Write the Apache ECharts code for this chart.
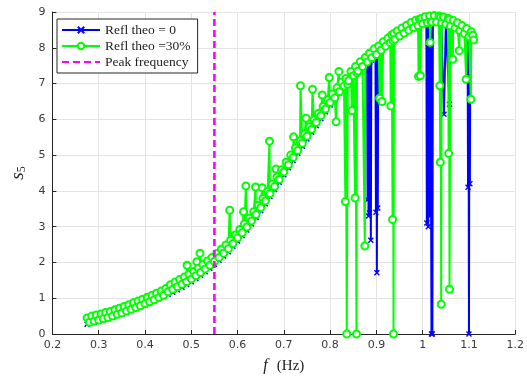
<!DOCTYPE html>
<html><head><meta charset="utf-8">
<script src="https://cdn.jsdelivr.net/npm/echarts@6/dist/echarts.min.js"></script>
<style>html,body{margin:0;padding:0;background:#fff}#c{width:527px;height:380px}</style>
</head><body><div id="c"></div>
<script>
// ---- data ----
const xTicks = [0.2,0.3,0.4,0.5,0.6,0.7,0.8,0.9,1.0,1.1,1.2];
const yTicks = [0,1,2,3,4,5,6,7,8,9];
const legendNames = ['Refl theo = 0','Refl theo =30%','Peak frequency'];
const peakFreq = 0.55;

// Refl theo = 0  : [frequency (Hz), s5]
const blueData = [
 [0.275,0.27],[0.28,0.30],[0.29,0.33],[0.30,0.36],[0.31,0.40],[0.32,0.43],[0.33,0.47],[0.34,0.52],
 [0.35,0.56],[0.36,0.61],[0.37,0.66],[0.38,0.71],[0.39,0.76],[0.40,0.82],[0.41,0.87],[0.42,0.93],
 [0.43,0.99],[0.44,1.05],[0.45,1.11],[0.46,1.17],[0.47,1.24],[0.48,1.31],[0.49,1.38],[0.50,1.46],
 [0.51,1.55],[0.52,1.64],[0.53,1.74],[0.54,1.84],[0.55,1.95],[0.56,2.06],[0.57,2.18],[0.58,2.30],
 [0.59,2.45],[0.60,2.60],[0.61,2.75],[0.62,2.91],[0.63,3.08],[0.64,3.26],[0.65,3.45],[0.66,3.64],
 [0.67,3.84],[0.68,4.04],[0.69,4.24],[0.70,4.45],[0.71,4.65],[0.72,4.85],[0.73,5.05],[0.74,5.25],
 [0.75,5.45],[0.76,5.64],[0.77,5.83],[0.78,6.02],[0.79,6.21],[0.80,6.40],[0.81,6.57],[0.82,6.74],
 [0.83,6.90],[0.84,7.05],[0.85,7.19],[0.86,7.32],[0.87,7.45],[0.88,7.55],
 [0.881,3.75],[0.882,7.56],[0.883,3.30],[0.884,7.57],[0.885,3.38],[0.886,7.60],[0.888,2.62],[0.889,7.66],
 [0.89,7.69],[0.898,7.78],[0.899,3.40],[0.900,7.80],[0.901,1.71],[0.902,7.82],[0.903,3.52],[0.904,7.84],
 [0.91,7.93],[0.92,8.04],[0.93,8.14],[0.94,8.24],[0.95,8.33],[0.96,8.41],[0.97,8.49],[0.98,8.56],
 [0.99,8.62],[1.00,8.67],[1.008,8.69],[1.009,3.10],[1.010,8.70],[1.012,3.00],[1.013,8.71],
 [1.016,3.30],[1.017,8.72],[1.019,0.0],[1.020,8.72],[1.021,0.0],[1.022,8.72],[1.03,8.72],[1.04,8.70],
 [1.046,6.14],[1.05,8.66],[1.058,6.42],[1.06,8.61],[1.07,8.55],[1.08,8.48],[1.09,8.40],
 [1.097,8.34],[1.098,4.10],[1.099,8.33],[1.100,0.0],[1.101,8.31],[1.102,4.20],[1.103,8.30],[1.11,8.22]
];

// Refl theo = 30% : [frequency (Hz), s5]
const greenData = [
 [0.275,0.45],[0.280,0.33],[0.285,0.50],[0.290,0.36],[0.295,0.53],[0.300,0.39],[0.305,0.56],[0.310,0.43],
 [0.315,0.60],[0.320,0.46],[0.325,0.63],[0.330,0.50],[0.335,0.68],[0.340,0.55],[0.345,0.72],[0.350,0.59],
 [0.355,0.77],[0.360,0.64],[0.365,0.82],[0.370,0.69],[0.375,0.87],[0.380,0.74],[0.385,0.92],[0.390,0.79],
 [0.395,0.97],[0.400,0.85],[0.405,1.03],[0.410,0.90],[0.415,1.08],[0.420,0.96],[0.425,1.14],[0.430,1.02],
 [0.435,1.20],[0.440,1.08],[0.445,1.27],[0.450,1.18],[0.455,1.38],[0.460,1.25],[0.465,1.45],[0.470,1.32],
 [0.475,1.52],[0.480,1.39],[0.485,1.59],[0.490,1.46],[0.491,1.92],[0.495,1.67],[0.500,1.54],[0.505,1.75],
 [0.510,1.63],[0.512,2.02],[0.515,1.84],[0.519,2.26],[0.520,1.72],[0.525,1.94],[0.530,1.82],[0.535,2.04],
 [0.540,1.92],[0.545,2.14],[0.550,2.03],[0.555,2.25],[0.560,2.14],[0.565,2.37],[0.570,2.26],[0.575,2.49],
 [0.580,2.38],[0.583,3.46],[0.585,2.62],[0.590,2.53],[0.595,2.77],[0.600,2.68],[0.605,2.92],[0.610,2.83],
 [0.613,3.42],[0.615,3.08],[0.618,4.14],[0.620,2.99],[0.625,3.24],[0.630,3.16],[0.635,3.42],[0.639,4.11],
 [0.640,3.34],[0.645,3.60],[0.650,3.53],[0.653,4.09],[0.655,3.79],[0.660,3.72],[0.665,3.99],[0.669,5.39],
 [0.670,3.92],[0.675,4.19],[0.680,4.12],[0.683,4.61],[0.685,4.39],[0.690,4.32],[0.695,4.59],[0.700,4.53],
 [0.705,4.80],[0.710,4.73],[0.715,5.00],[0.720,4.93],[0.721,5.51],[0.725,5.20],[0.730,5.13],[0.735,5.40],
 [0.736,6.94],[0.740,5.33],[0.745,5.60],[0.748,6.03],[0.750,5.53],[0.755,5.79],[0.760,5.72],[0.762,6.84],
 [0.765,5.98],[0.770,5.91],[0.775,6.17],[0.780,6.10],[0.783,6.68],[0.785,6.36],[0.790,6.29],[0.795,6.55],
 [0.798,7.17],[0.800,6.47],[0.805,6.71],[0.810,6.60],[0.813,5.93],[0.815,6.88],[0.819,7.34],[0.820,6.77],
 [0.825,7.04],[0.830,6.93],[0.833,3.70],[0.834,7.14],[0.836,0.0],[0.838,6.98],[0.840,7.08],[0.845,7.34],
 [0.847,6.24],[0.850,7.22],[0.854,3.80],[0.855,7.48],[0.857,0.0],[0.858,7.30],[0.860,7.35],[0.865,7.61],
 [0.870,7.48],[0.875,2.46],[0.876,7.73],[0.880,7.60],[0.885,7.85],[0.890,7.72],[0.895,7.97],[0.900,7.81],
 [0.905,8.05],[0.907,6.59],[0.910,7.93],[0.912,6.50],[0.915,8.17],[0.920,8.04],[0.925,8.27],[0.930,8.14],
 [0.931,6.37],[0.933,8.36],[0.935,3.20],[0.936,8.19],[0.937,0.0],[0.938,8.40],[0.940,8.24],[0.945,8.47],
 [0.950,8.33],[0.955,8.55],[0.960,8.41],[0.965,8.63],[0.970,8.49],[0.975,8.71],[0.980,8.56],[0.985,8.77],
 [0.990,8.62],[0.991,7.20],[0.993,8.80],[0.995,7.22],[0.997,8.82],[1.000,8.67],[1.005,8.87],[1.010,8.70],
 [1.015,8.89],[1.016,8.15],[1.018,8.72],[1.020,8.72],[1.025,8.90],[1.030,8.72],[1.035,8.89],[1.037,6.94],
 [1.038,4.80],[1.039,8.86],[1.040,0.83],[1.041,8.70],[1.045,8.86],[1.050,8.66],[1.055,8.82],[1.056,5.05],
 [1.057,8.80],[1.058,1.25],[1.060,8.61],[1.065,7.68],[1.066,8.76],[1.070,8.55],[1.075,8.70],[1.079,7.92],
 [1.080,8.48],[1.085,8.62],[1.090,8.40],[1.094,7.12],[1.095,8.54],[1.100,8.31],[1.104,6.56],[1.105,8.45],
 [1.108,8.35],[1.110,8.22]
];

const peakLine = [[peakFreq, 0], [peakFreq, 9]];

// ---- chart ----
const serif = "'Liberation Serif','DejaVu Serif',serif";
const sans = "'DejaVu Sans',sans-serif";
const axisColor = '#262626';
const chart = echarts.init(document.getElementById('c'), null, {renderer: 'canvas'});
chart.setOption({
  animation: false,
  backgroundColor: '#fff',
  grid: {left: 44, right: 9, top: 12, bottom: 46, containLabel: false},
  legend: {
    data: [
      {name: legendNames[0]},
      {name: legendNames[1]},
      {name: legendNames[2], itemStyle: {opacity: 0}}
    ],
    orient: 'vertical', left: 57, top: 19,
    backgroundColor: '#fff', borderColor: axisColor, borderWidth: 1,
    padding: [4, 7, 4, 4], itemGap: 2, itemWidth: 38, itemHeight: 8,
    textStyle: {fontFamily: serif, fontSize: 13.5, color: '#222'}
  },
  xAxis: {
    type: 'value', min: xTicks[0], max: xTicks[xTicks.length-1], interval: 0.1,
    name: '{i|f}{n|(Hz)}', nameLocation: 'middle', nameGap: 24,
    nameTextStyle: {rich: {
      i: {fontFamily: serif, fontStyle: 'italic', fontSize: 16, color: '#222', padding: [0, 9, 0, 0]},
      n: {fontFamily: serif, fontSize: 15, color: '#222'}}},
    axisLine: {onZero: false, lineStyle: {color: axisColor, width: 1}},
    axisTick: {inside: true, length: 4, lineStyle: {color: axisColor}},
    axisLabel: {fontFamily: sans, fontSize: 11, color: '#3a3a3a', margin: 6,
      formatter: v => String(+v.toFixed(1))},
    splitLine: {show: true, lineStyle: {color: '#e3e3e3', width: 1}}
  },
  yAxis: {
    type: 'value', min: yTicks[0], max: yTicks[yTicks.length-1], interval: 1,
    name: '{i|s}{sub|5}', nameLocation: 'middle', nameGap: 22, nameRotate: 90,
    nameTextStyle: {rich: {
      i: {fontFamily: serif, fontStyle: 'italic', fontSize: 19, color: '#222'},
      sub: {fontFamily: serif, fontSize: 12, color: '#222', padding: [8, 0, 0, 0]}}},
    axisLine: {show: true, onZero: false, lineStyle: {color: axisColor, width: 1}},
    axisTick: {show: true, inside: true, length: 4, lineStyle: {color: axisColor}},
    axisLabel: {fontFamily: sans, fontSize: 11, color: '#3a3a3a', margin: 7},
    splitLine: {show: true, lineStyle: {color: '#e3e3e3', width: 1}}
  },
  series: [
    {
      name: legendNames[0], type: 'line', data: blueData,
      showAllSymbol: true, symbol: 'path://M0,0L10,10M10,0L0,10', symbolSize: 5,
      lineStyle: {color: '#0000ff', width: 2},
      itemStyle: {color: '#0000ff', borderColor: '#0000ff', borderWidth: 1.4},
      emphasis: {disabled: true}, z: 2
    },
    {
      name: legendNames[1], type: 'line', data: greenData,
      showAllSymbol: true, symbol: 'emptyCircle', symbolSize: 7,
      lineStyle: {color: '#00ff00', width: 2},
      itemStyle: {color: '#00ff00', borderColor: '#00ff00', borderWidth: 1.5},
      emphasis: {disabled: true}, z: 3
    },
    {
      name: legendNames[2], type: 'line', data: peakLine, symbol: 'none',
      lineStyle: {color: '#ff00ff', width: 2.6, type: [7, 4]},
      itemStyle: {color: '#ff00ff'},
      emphasis: {disabled: true}, z: 4
    }
  ]
});
</script></body></html>
